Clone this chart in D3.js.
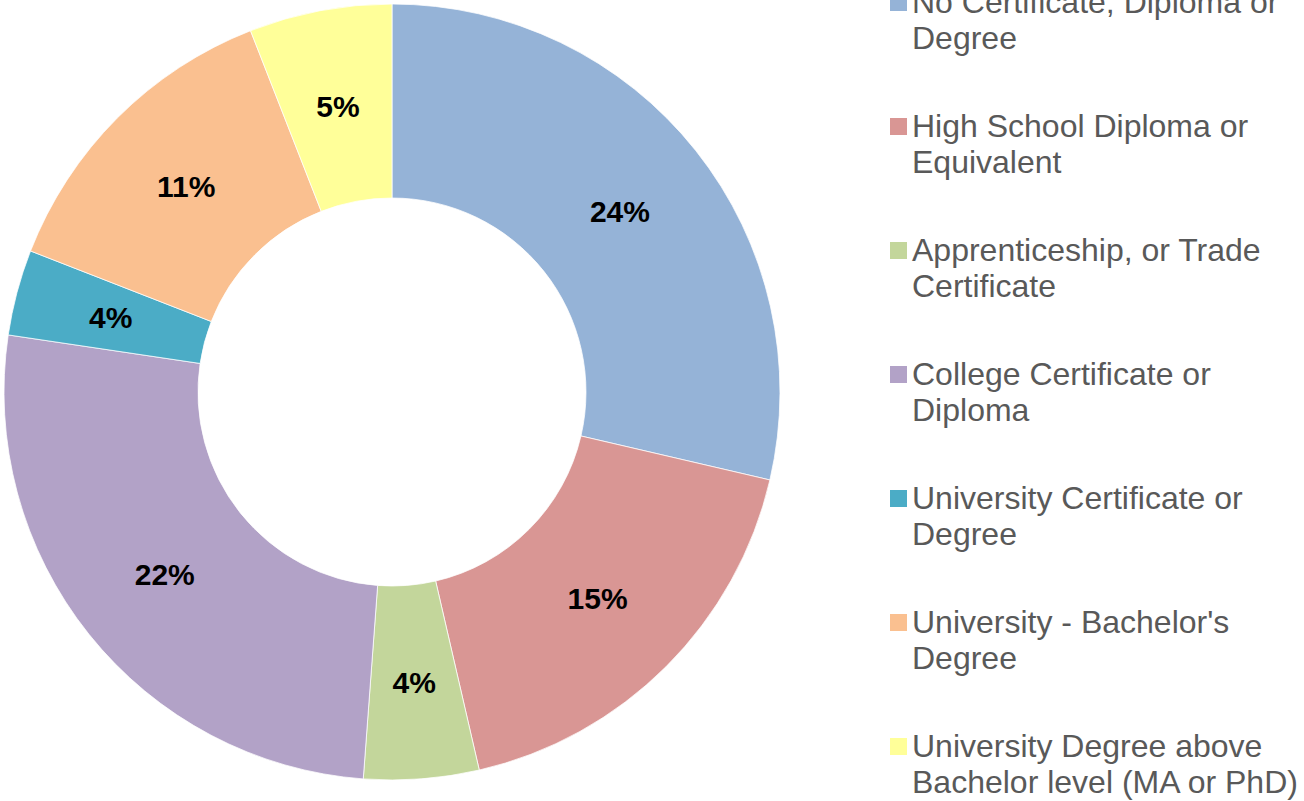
<!DOCTYPE html>
<meta charset="utf-8">
<head>
<style>
body { margin: 0; background: #fff; }
.legend text { font: 32px "Liberation Sans", Arial, sans-serif; fill: #595959; }
.lbl { font: bold 30px "Liberation Sans", Arial, sans-serif; fill: #000; }
</style>
</head>
<body>
<svg width="1304" height="801"></svg>
<script src="https://d3js.org/d3.v7.min.js"></script>
<script>

var categories = [
  ["No Certificate, Diploma or", "Degree"],
  ["High School Diploma or", "Equivalent"],
  ["Apprenticeship, or Trade", "Certificate"],
  ["College Certificate or", "Diploma"],
  ["University Certificate or", "Degree"],
  ["University - Bachelor's", "Degree"],
  ["University Degree above", "Bachelor level (MA or PhD)"]
];
var shares = [28.64, 17.75, 4.79, 26.17, 3.57, 13.14, 5.94];
var pctLabels = ["24%", "15%", "4%", "22%", "4%", "11%", "5%"];
var colors = ["#95B3D7", "#D99694", "#C3D69B", "#B2A2C7", "#4BACC6", "#FAC090", "#FFFF99"];

var svg = d3.select("svg"),
    cx = 392, cy = 392,
    outerR = 388, innerR = 194;

var g = svg.append("g").attr("transform", "translate(" + cx + "," + cy + ")");

var pie = d3.pie().sort(null).value(function(d) { return d; });
var arc = d3.arc().innerRadius(innerR).outerRadius(outerR);
var labelArc = d3.arc().innerRadius((innerR + outerR) / 2).outerRadius((innerR + outerR) / 2);

var arcs = pie(shares);

g.selectAll(".slice")
  .data(arcs)
  .enter().append("path")
    .attr("class", "slice")
    .attr("d", arc)
    .attr("fill", function(d, i) { return colors[i]; })
    .attr("stroke", "#fff")
    .attr("stroke-width", 0.75);

g.selectAll(".lbl")
  .data(arcs)
  .enter().append("text")
    .attr("class", "lbl")
    .attr("transform", function(d) { var c = labelArc.centroid(d); return "translate(" + c[0] + "," + (c[1] + 11) + ")"; })
    .attr("text-anchor", "middle")
    .text(function(d, i) { return pctLabels[i]; });

// legend
var legend = svg.append("g").attr("class", "legend");
var firstBase = 13, step = 124, lineH = 36;

var item = legend.selectAll(".item")
  .data(categories)
  .enter().append("g")
    .attr("class", "item")
    .attr("transform", function(d, i) { return "translate(0," + (firstBase + i * step) + ")"; });

item.append("rect")
    .attr("x", 890)
    .attr("y", -19)
    .attr("width", 17)
    .attr("height", 17)
    .attr("fill", function(d, i) { return colors[i]; });

item.append("text")
    .attr("x", 912)
    .selectAll("tspan")
    .data(function(d) { return d; })
    .enter().append("tspan")
      .attr("x", 912)
      .attr("y", function(d, j) { return j * lineH; })
      .text(function(d) { return d; });

</script>
</body>
</html>
